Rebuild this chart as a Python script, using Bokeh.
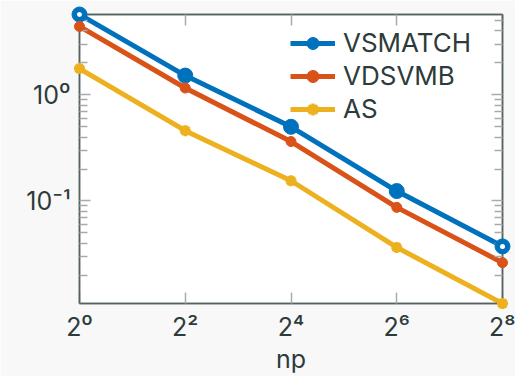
from bokeh.plotting import figure
from bokeh.models import LogAxis, FixedTicker, Legend, LegendItem, Range1d
from bokeh.embed import file_html
from bokeh.resources import INLINE

np_vals = [1, 4, 16, 64, 256]
x_tick_labels = {1: "2⁰", 4: "2²", 16: "2⁴", 64: "2⁶", 256: "2⁸"}
y_tick_labels = {0.1: "10⁻¹", 1: "10⁰"}
vsmatch = [5.72, 1.52, 0.50, 0.124, 0.0373]
vdsvmb = [4.41, 1.16, 0.363, 0.087, 0.0262]
as_vals = [1.77, 0.46, 0.155, 0.0365, 0.0108]

FONT = "Inter"
TXT = "#2d3b3b"
AX = "#56625f"
TK = "#a9abab"
BG = "#f8f8f8"

y_minor = [0.02, 0.03, 0.04, 0.05, 0.06, 0.07, 0.08, 0.09,
           0.2, 0.3, 0.4, 0.5, 0.6, 0.7, 0.8, 0.9, 2, 3, 4, 5]

p = figure(frame_width=423, frame_height=289, x_axis_type="log", y_axis_type="log",
           output_backend="svg", toolbar_location=None,
           x_range=Range1d(1, 256), y_range=Range1d(min(as_vals), max(vsmatch)),
           min_border_left=79, min_border_right=13, min_border_top=14, min_border_bottom=73)
p.background_fill_color = "white"
p.border_fill_color = BG
p.outline_line_color = AX
p.outline_line_width = 1.5
p.xgrid.visible = False
p.ygrid.visible = False

def style_axis(ax, labels, ticks, minor, show_labels):
    ax.ticker = FixedTicker(ticks=ticks, minor_ticks=minor)
    ax.axis_line_color = AX
    ax.axis_line_width = 1.5
    ax.major_tick_line_color = TK
    ax.minor_tick_line_color = TK
    ax.major_tick_line_width = 1.5
    ax.minor_tick_line_width = 1.5
    ax.major_tick_in = 11
    ax.major_tick_out = 0
    ax.minor_tick_in = 8
    ax.minor_tick_out = 0
    if show_labels:
        ax.major_label_overrides = labels
        ax.major_label_text_font = FONT
        ax.major_label_text_font_size = "25px"
        ax.major_label_text_color = TXT
    else:
        ax.major_label_text_font_size = "2px"
        ax.major_label_text_alpha = 0
        ax.major_label_standoff = 0

xa = p.xaxis[0]
style_axis(xa, x_tick_labels, np_vals, [], True)
xa.major_label_standoff = 8
xa.axis_label = "np"
xa.axis_label_text_font = FONT
xa.axis_label_text_font_style = "normal"
xa.axis_label_text_font_size = "25px"
xa.axis_label_text_color = TXT
xa.axis_label_standoff = -1

ya = p.yaxis[0]
style_axis(ya, y_tick_labels, [0.1, 1], y_minor, True)
ya.major_label_standoff = 9

top = LogAxis()
style_axis(top, {}, np_vals, [], False)
p.add_layout(top, "above")
right = LogAxis()
style_axis(right, {}, [0.1, 1], y_minor, False)
p.add_layout(right, "right")

c1, c2, c3 = "#0072BD", "#D95319", "#EDB120"
l1 = p.line(np_vals, vsmatch, line_color=c1, line_width=5)
m1 = p.scatter(np_vals, vsmatch, marker="circle", size=15, fill_color=c1, line_color=c1, level="overlay")
# end markers drawn as rings, as in the reference
p.scatter([np_vals[0], np_vals[-1]], [vsmatch[0], vsmatch[-1]], marker="circle", size=5,
          fill_color="white", line_color=None, level="overlay")
l2 = p.line(np_vals, vdsvmb, line_color=c2, line_width=5)
m2 = p.scatter(np_vals, vdsvmb, marker="circle", size=10, fill_color=c2, line_color=c2, level="overlay")
l3 = p.line(np_vals, as_vals, line_color=c3, line_width=5)
m3 = p.scatter(np_vals, as_vals, marker="asterisk", size=11, line_color=c3, line_width=3.5, level="overlay")

legend = Legend(items=[LegendItem(label="VSMATCH", renderers=[l1, m1]),
                       LegendItem(label="VDSVMB", renderers=[l2, m2]),
                       LegendItem(label="AS", renderers=[l3, m3])],
                location=(211, 179))
legend.border_line_alpha = 0
legend.background_fill_alpha = 0
legend.label_text_font = FONT
legend.label_text_font_size = "26px"
legend.label_text_color = TXT
legend.glyph_width = 45
legend.glyph_height = 30
legend.spacing = 2
legend.label_standoff = 8
legend.margin = 0
legend.padding = 0
p.add_layout(legend)

html = file_html(p, INLINE)
html = html.replace("<body>", '<body style="background:%s;margin:0;overflow:hidden">' % BG, 1)
open("out.html", "w").write(html)
